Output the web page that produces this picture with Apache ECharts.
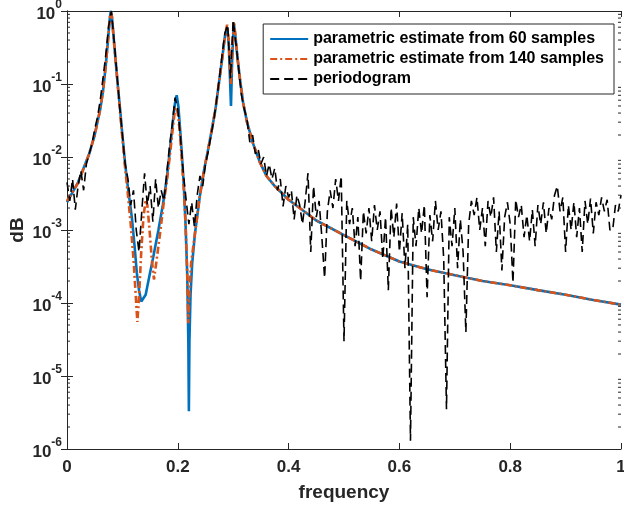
<!DOCTYPE html>
<html>
<head>
<meta charset="utf-8">
<script src="https://cdn.jsdelivr.net/npm/echarts@6/dist/echarts.min.js"></script>
<style>
  html, body { margin: 0; padding: 0; background: #fff; }
  #chart { width: 624px; height: 510px; }
</style>
</head>
<body>
<div id="chart"></div>
<script>
// parametric estimate, 60 samples
const freq60 = [0, 0.02, 0.04, 0.05, 0.06, 0.065, 0.07, 0.074, 0.077, 0.079, 0.081, 0.084, 0.088, 0.092, 0.096,
  0.1, 0.105, 0.11, 0.117, 0.122, 0.126, 0.13, 0.134, 0.137, 0.142, 0.148, 0.155, 0.165, 0.173, 0.18, 0.186,
  0.191, 0.195, 0.198, 0.201, 0.204, 0.207, 0.211, 0.214, 0.217, 0.219, 0.22, 0.221, 0.223, 0.226, 0.231,
  0.24, 0.248, 0.255, 0.262, 0.268, 0.274, 0.28, 0.285, 0.289, 0.292, 0.295, 0.296, 0.298, 0.301, 0.304,
  0.308, 0.312, 0.318, 0.325, 0.335, 0.348, 0.36, 0.375, 0.4, 0.42, 0.45, 0.5, 0.55, 0.6, 0.65, 0.7, 0.75,
  0.8, 0.85, 0.9, 0.95, 1.0];
const psd60 = [2.4e-3, 4.5e-3, 1.1e-2, 2e-2, 4.5e-2, 8e-2, 0.18, 0.4, 0.75, 1.0, 0.85, 0.45, 0.2, 0.09, 0.044,
  0.02, 8e-3, 3.8e-3, 1.5e-3, 6e-4, 2.6e-4, 1.5e-4, 1.05e-4, 1e-4, 1.3e-4, 2.2e-4, 4e-4, 1e-3, 2.2e-3, 5e-3, 0.013,
  0.03, 0.055, 0.07, 0.05, 0.025, 0.012, 3.9e-3, 1.2e-3, 2.5e-4, 3e-5, 3.3e-6, 3e-5, 1.3e-4, 3.5e-4, 9e-4,
  3e-3, 7e-3, 0.013, 0.025, 0.045, 0.1, 0.22, 0.45, 0.6, 0.35, 0.08, 0.05, 0.2, 0.69, 0.45,
  0.22, 0.12, 0.055, 0.03, 0.016, 8.5e-3, 5.5e-3, 4e-3, 2.6e-3, 2e-3, 1.35e-3, 8.5e-4, 5.4e-4, 3.7e-4, 2.9e-4, 2.4e-4, 2e-4,
  1.75e-4, 1.5e-4, 1.3e-4, 1.1e-4, 9.5e-5];

// parametric estimate, 140 samples
const freq140 = [0, 0.02, 0.04, 0.05, 0.06, 0.065, 0.07, 0.074, 0.077, 0.079, 0.081, 0.084, 0.088, 0.092, 0.096,
  0.1, 0.105, 0.11, 0.115, 0.12, 0.124, 0.127, 0.13, 0.134, 0.138, 0.142, 0.145, 0.149, 0.153, 0.157, 0.161,
  0.168, 0.175, 0.18, 0.186, 0.191, 0.195, 0.198, 0.201, 0.204, 0.207, 0.211, 0.214, 0.217, 0.219, 0.221,
  0.224, 0.231, 0.24, 0.248, 0.255, 0.262, 0.268, 0.274, 0.28, 0.285, 0.289, 0.292, 0.295, 0.296, 0.298,
  0.301, 0.304, 0.308, 0.312, 0.318, 0.325, 0.335, 0.348, 0.36, 0.375, 0.4, 0.42, 0.45, 0.5, 0.55, 0.6,
  0.65, 0.7, 0.75, 0.8, 0.85, 0.9, 0.95, 1.0];
const psd140 = [2.5e-3, 4.4e-3, 1.1e-2, 2e-2, 4.5e-2, 8e-2, 0.18, 0.4, 0.8, 0.95, 0.85, 0.45, 0.2, 0.09, 0.04,
  0.018, 7e-3, 3e-3, 1.2e-3, 4e-4, 1.3e-4, 5.5e-5, 1.2e-4, 5e-4, 1.5e-3, 2.6e-3, 2.2e-3, 1e-3, 4e-4, 2.1e-4, 3.5e-4,
  9e-4, 2.5e-3, 4.5e-3, 0.011, 0.025, 0.045, 0.048, 0.035, 0.02, 0.01, 3.5e-3, 1.2e-3, 2.5e-4, 5.3e-5, 1.5e-4,
  3.5e-4, 9e-4, 3e-3, 7e-3, 0.013, 0.025, 0.045, 0.1, 0.22, 0.45, 0.65, 0.4, 0.13, 0.1, 0.25,
  0.72, 0.47, 0.22, 0.12, 0.055, 0.03, 0.016, 8.5e-3, 5.5e-3, 4e-3, 2.6e-3, 2e-3, 1.35e-3, 8.5e-4, 5.4e-4, 3.7e-4,
  2.9e-4, 2.4e-4, 2e-4, 1.75e-4, 1.5e-4, 1.3e-4, 1.1e-4, 9.5e-5];

// periodogram, step 0.005 from 0 to 1
const periodStep = 0.005;
const periodogram = [
  4.5e-3, 2.5e-3, 5e-3, 1.9e-3, 4e-3, 6.5e-3, 3.5e-3, 8e-3, 1.1e-2, 1.5e-2,
  2.4e-2, 3.5e-2, 6e-2, 0.12, 0.25, 0.6, 1.0, 0.4, 0.14, 0.05,
  0.02, 8e-3, 5e-3, 2.2e-3, 3.5e-3, 1e-3, 5e-4, 1.8e-3, 6e-3, 2.2e-3,
  4e-3, 1.3e-3, 5e-3, 2e-3, 3.5e-3, 2.5e-3, 6e-3, 1.4e-2, 2.8e-2, 6.5e-2,
  4.5e-2, 1.8e-2, 6e-3, 2.6e-3, 1.2e-3, 2.4e-3, 1.1e-3, 3e-3, 5.5e-3, 4e-3,
  8e-3, 1.2e-2, 2e-2, 3.2e-2, 6e-2, 0.12, 0.25, 0.5, 0.65, 0.12,
  0.75, 0.35, 0.16, 0.07, 0.045, 0.032, 0.016, 0.02, 0.011, 0.013,
  8e-3, 1e-2, 5.5e-3, 8e-3, 5e-3, 7e-3, 3.5e-3, 5e-3, 2.1e-3, 4e-3,
  2.8e-3, 3.5e-3, 1.4e-3, 3e-3, 2.2e-3, 1.2e-3, 2.5e-3, 6e-3, 5e-4, 4e-3,
  1.5e-3, 2.5e-3, 8e-4, 2.2e-4, 1.8e-3, 3.5e-3, 2e-3, 5e-3, 2.5e-3, 5.5e-3,
  3e-5, 2.5e-3, 1.2e-3, 2e-3, 6e-4, 1.5e-3, 2e-4, 1.8e-3, 9e-4, 2e-3,
  7e-4, 2.2e-3, 1e-3, 1.8e-3, 4e-4, 1.5e-3, 1.5e-4, 2e-3, 8e-4, 2.3e-3,
  5e-4, 1.7e-3, 3e-4, 1.2e-3, 1.3e-6, 1.5e-3, 6e-4, 2e-3, 9e-4, 2.2e-3,
  1.2e-4, 1.6e-3, 7e-4, 2.5e-3, 1e-3, 1.8e-3, 4e-4, 3.5e-6, 1.5e-3, 6e-4,
  2e-3, 3e-4, 1.4e-3, 5e-4, 4e-5, 1.2e-3, 2.5e-3, 1.6e-3, 2.8e-3, 1e-3,
  2e-3, 6e-4, 2.5e-3, 1.5e-3, 2.8e-3, 5e-4, 1.8e-3, 2.8e-4, 1.5e-3, 2.4e-3,
  1.2e-3, 1.9e-4, 2.6e-3, 1.5e-3, 2.2e-3, 8e-4, 1.6e-3, 7e-4, 1.9e-3, 6e-4,
  2.2e-3, 1.2e-3, 2.4e-3, 9e-4, 2e-3, 1.4e-3, 3e-3, 4e-3, 1.8e-3, 2.8e-3,
  5e-4, 2.2e-3, 1e-3, 2.4e-3, 8e-4, 2e-3, 5e-4, 2.5e-3, 1.2e-3, 2.7e-3,
  9e-4, 2.4e-3, 1.6e-3, 2.8e-3, 1.8e-3, 2.6e-3, 1e-3, 1e-3, 2.2e-3, 1.8e-3,
  3e-3
];

const yExponents = [-6, -5, -4, -3, -2, -1, 0];
const legendNames = [
  'parametric estimate from 60 samples',
  'parametric estimate from 140 samples',
  'periodogram'
];

const FONT = 'Liberation Sans';
const AXIS_COLOR = '#262626';

function pairs (xs, ys) { return xs.map((x, i) => [x, ys[i]]); }

// minor log ticks at 2..9 x 10^k
const minorTicks = [];
yExponents.slice(0, -1).forEach((e) => {
  for (let m = 2; m <= 9; m++) minorTicks.push([m * Math.pow(10, e)]);
});

const chart = echarts.init(document.getElementById('chart'), null, { renderer: 'canvas' });

chart.setOption({
  animation: false,
  grid: { left: 67, right: 3, top: 11, bottom: 61, containLabel: false, outerBoundsMode: 'none' },
  legend: {
    data: legendNames,
    orient: 'vertical',
    right: 10,
    top: 24,
    itemWidth: 38,
    itemHeight: 14,
    itemGap: 2,
    padding: [6, 10, 6, 6],
    borderColor: AXIS_COLOR,
    borderWidth: 1,
    borderRadius: 0,
    backgroundColor: '#fff',
    itemStyle: { opacity: 0 },
    textStyle: { fontFamily: FONT, fontWeight: 'bold', fontSize: 16, lineHeight: 18, color: '#000' }
  },
  xAxis: [
    {
      type: 'value', min: 0, max: 1, interval: 0.2,
      name: 'frequency', nameLocation: 'middle', nameGap: 34, nameMoveOverlap: false,
      nameTextStyle: { fontFamily: FONT, fontWeight: 'bold', fontSize: 19, color: AXIS_COLOR },
      axisLine: { lineStyle: { color: AXIS_COLOR, width: 1 } },
      axisTick: { inside: true, length: 6, lineStyle: { color: AXIS_COLOR } },
      axisLabel: {
        fontFamily: FONT, fontWeight: 'bold', fontSize: 17, color: AXIS_COLOR, margin: 10,
        formatter: (v) => String(Math.round(v * 10) / 10)
      },
      splitLine: { show: false }
    },
    {
      type: 'value', min: 0, max: 1, interval: 0.2, position: 'top',
      axisLine: { lineStyle: { color: AXIS_COLOR, width: 1 } },
      axisTick: { inside: true, length: 6, lineStyle: { color: AXIS_COLOR } },
      axisLabel: { show: false },
      splitLine: { show: false }
    }
  ],
  yAxis: [
    {
      type: 'log', logBase: 10, min: 1e-6, max: 1,
      name: 'dB', nameLocation: 'middle', nameGap: 40, nameMoveOverlap: false,
      nameTextStyle: { fontFamily: FONT, fontWeight: 'bold', fontSize: 19, color: AXIS_COLOR },
      axisLine: { lineStyle: { color: AXIS_COLOR, width: 1 } },
      axisTick: { inside: true, length: 6, lineStyle: { color: AXIS_COLOR } },
      axisLabel: {
        margin: 5,
        formatter: (v) => '{b|10}{s|' + Math.round(Math.log10(v)) + '}',
        rich: {
          b: { fontFamily: FONT, fontWeight: 'bold', fontSize: 17, color: AXIS_COLOR, verticalAlign: 'bottom', lineHeight: 24 },
          s: { fontFamily: FONT, fontWeight: 'bold', fontSize: 12, color: AXIS_COLOR, verticalAlign: 'top', lineHeight: 24 }
        }
      },
      splitLine: { show: false }
    },
    {
      type: 'log', logBase: 10, min: 1e-6, max: 1, position: 'right',
      axisLine: { lineStyle: { color: AXIS_COLOR, width: 1 } },
      axisTick: { inside: true, length: 6, lineStyle: { color: AXIS_COLOR } },
      axisLabel: { show: false },
      splitLine: { show: false }
    }
  ],
  series: [
    {
      name: legendNames[0], type: 'line', data: pairs(freq60, psd60),
      showSymbol: false, symbol: 'none', z: 3,
      lineStyle: { color: '#0072BD', width: 2.6 },
      itemStyle: { color: '#0072BD' }
    },
    {
      name: legendNames[1], type: 'line', data: pairs(freq140, psd140),
      showSymbol: false, symbol: 'none', z: 4,
      lineStyle: { color: '#D95319', width: 2.6, type: [7, 3, 2, 3] },
      itemStyle: { color: '#D95319' }
    },
    {
      name: legendNames[2], type: 'line',
      data: periodogram.map((v, i) => [i * periodStep, v]),
      showSymbol: false, symbol: 'none', z: 5,
      lineStyle: { color: '#000', width: 1.6, type: [9, 5] },
      itemStyle: { color: '#000' }
    },
    {
      type: 'custom', data: minorTicks, z: 6, silent: true, clip: false,
      renderItem: (params, api) => {
        const l = api.coord([0, api.value(0)]);
        const r = api.coord([1, api.value(0)]);
        const st = { stroke: AXIS_COLOR, lineWidth: 1 };
        return {
          type: 'group',
          children: [
            { type: 'line', shape: { x1: l[0], y1: l[1], x2: l[0] + 3, y2: l[1] }, style: st },
            { type: 'line', shape: { x1: r[0], y1: r[1], x2: r[0] - 3, y2: r[1] }, style: st }
          ]
        };
      },
      encode: { y: 0 }
    }
  ]
});
</script>
</body>
</html>
